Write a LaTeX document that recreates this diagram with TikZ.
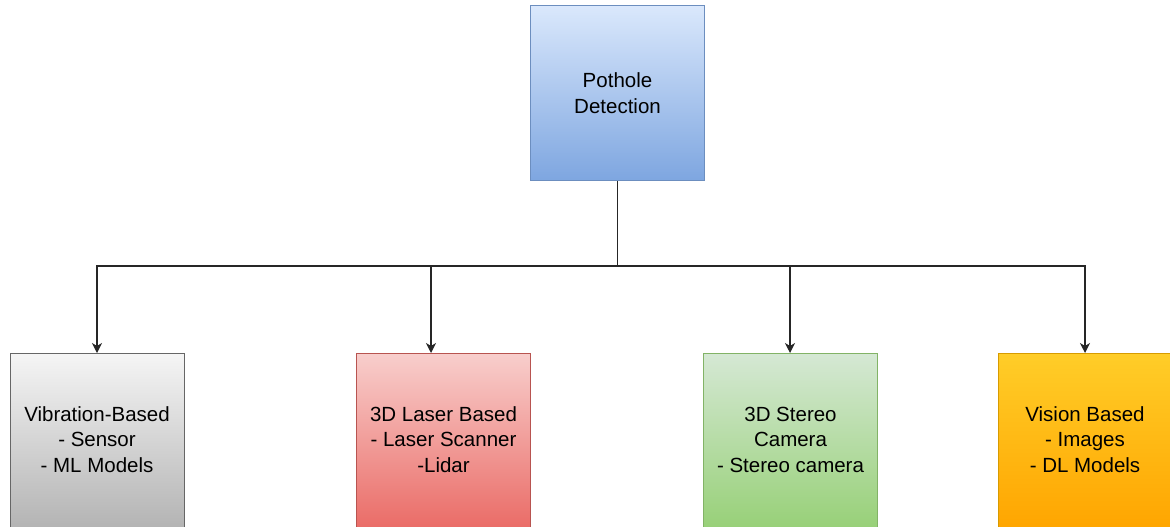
\documentclass[tikz,border=0pt]{standalone}
\usepackage{fontspec}
\setmainfont{Liberation Sans}
\usepackage{xcolor}
\usetikzlibrary{arrows.meta}

\definecolor{blueTop}{HTML}{DAE8FC}
\definecolor{blueBot}{HTML}{7EA6E0}
\definecolor{blueLine}{HTML}{6C8EBF}
\definecolor{grayTop}{HTML}{F5F5F5}
\definecolor{grayBot}{HTML}{B3B3B3}
\definecolor{grayLine}{HTML}{666666}
\definecolor{redTop}{HTML}{F8CECC}
\definecolor{redBot}{HTML}{EA6B66}
\definecolor{redLine}{HTML}{B85450}
\definecolor{greenTop}{HTML}{D5E8D4}
\definecolor{greenBot}{HTML}{97D077}
\definecolor{greenLine}{HTML}{82B366}
\definecolor{orangeTop}{HTML}{FFCD28}
\definecolor{orangeBot}{HTML}{FFA500}
\definecolor{orangeLine}{HTML}{D79B00}

\tikzset{
    box/.style={rectangle, anchor=north west, minimum width=174pt, minimum height=176pt,
        line width=1pt, align=center, font=\fontsize{20.5}{25.5}\selectfont, inner sep=0pt},
    arr/.style={-{Stealth[length=10pt,width=10pt,inset=3pt]}, line width=1.2pt, draw=black!85}
}

\begin{document}
\begin{tikzpicture}[x=1pt,y=-1pt]
    \useasboundingbox (0,0) rectangle (1170,527);
        \node[box, draw=blueLine, top color=blueTop, bottom color=blueBot, minimum height=175pt] (pothole) at (530,5) {Pothole\\Detection};
        \node[box, draw=grayLine, top color=grayTop, bottom color=grayBot, text depth=4pt] (vibration) at (9.5,353) {Vibration-Based\\- Sensor\\- ML Models};
        \node[box, draw=redLine, top color=redTop, bottom color=redBot, text depth=4pt] (laser) at (356,353) {3D Laser Based\\- Laser Scanner\\-Lidar};
        \node[box, draw=greenLine, top color=greenTop, bottom color=greenBot, text depth=4pt] (stereo) at (703,353) {3D Stereo\\Camera\\- Stereo camera};
        \node[box, draw=orangeLine, top color=orangeTop, bottom color=orangeBot, text depth=4pt] (vision) at (997.5,353) {Vision Based\\- Images\\- DL Models};
        \coordinate (split) at (617.5,266);
        \draw[line width=1.3pt, draw=black!85] (pothole.south -| split) -- (split);
        \draw[arr] (split) -| (vibration.north);
        \draw[arr] (split) -| ([xshift=-12.5pt]laser.north);
        \draw[arr] (split) -| ([xshift=-0.5pt]stereo.north);
        \draw[arr] (split) -| (vision.north);
    \end{tikzpicture}
\end{document}
